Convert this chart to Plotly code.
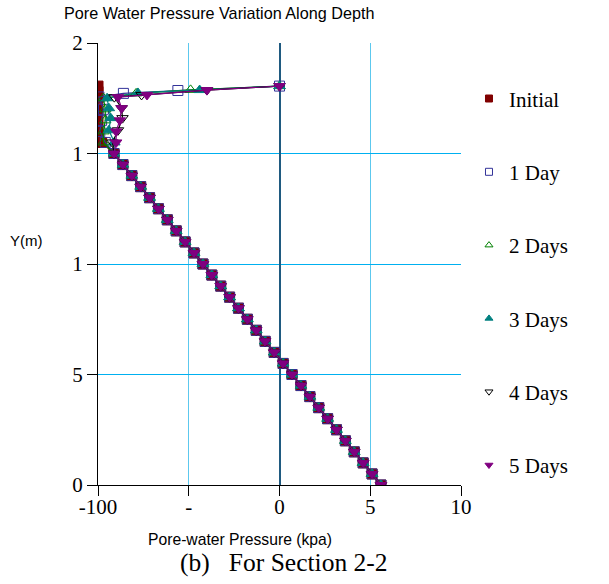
import plotly.graph_objects as go

# ---- data ----
# common hydrostatic profile (depth 0 .. 15 m, 0.5 m nodes)
base_y = [0.0, 0.5, 1.0, 1.5, 2.0, 2.5, 3.0, 3.5, 4.0, 4.5, 5.0, 5.5, 6.0, 6.5, 7.0,
          7.5, 8.0, 8.5, 9.0, 9.5, 10.0, 10.5, 11.0, 11.5, 12.0, 12.5, 13.0, 13.5,
          14.0, 14.5, 15.0]
base_p = [55.9, 51.0, 46.1, 41.2, 36.3, 31.4, 26.5, 21.6, 16.7, 11.8, 6.9, 2.0, -2.9,
          -7.9, -12.8, -17.7, -22.6, -27.5, -32.4, -37.3, -42.2, -47.1, -52.0, -56.9,
          -61.8, -66.7, -71.6, -76.5, -81.4, -86.3, -91.2]

# upper parts of each series
initial_y = [15.5, 16.0, 16.5, 17.0, 17.5, 17.8, 18.05]
initial_p = [-98, -100, -100, -100, -100, -100, -100]

day1_y = [15.5, 16.0, 16.5, 17.0, 17.56, 17.72, 17.85, 18.05]
day1_p = [-96, -99, -98, -97, -99.5, -86, -56, 0]

day2_y = [15.5, 16.0, 16.5, 17.0, 17.5, 17.72, 17.88, 18.05]
day2_p = [-97, -97, -96, -96, -97, -79, -49, 0]

day3_y = [15.5, 16.05, 16.6, 17.05, 17.5, 17.74, 17.87, 18.05]
day3_p = [-91, -94, -93, -94, -95, -78, -44, 0]

day4_y = [15.5, 16.05, 16.6, 17.05, 17.55, 17.65, 17.87, 18.05]
day4_p = [-92, -89, -86.5, -87, -91, -76, -40, 0]

day5_y = [15.5, 16.0, 16.5, 17.05, 17.55, 17.65, 17.87, 18.05]
day5_p = [-90, -90, -88, -87, -89, -73, -40, 0]

names = ["Initial", "1 Day", "2 Days", "3 Days", "4 Days", "5 Days"]
uppers = [(initial_p, initial_y), (day1_p, day1_y), (day2_p, day2_y),
          (day3_p, day3_y), (day4_p, day4_y), (day5_p, day5_y)]
colors = ["#800000", "#333399", "#008000", "#008080", "#000000", "#800080"]
symbols = ["square", "square-open", "triangle-up-open", "triangle-up",
           "triangle-down-open", "triangle-down"]

x_tickvals = [-100, -50, 0, 50, 100]
x_ticktext = ["-100", "-", "0", "5", "10"]
y_tickvals = [0, 5, 10, 15, 20]
y_ticktext = ["0", "5", "1", "1", "2"]

fig = go.Figure()
for name, (up_p, up_y), col, sym in zip(names, uppers, colors, symbols):
    fig.add_trace(go.Scatter(
        x=base_p + up_p, y=base_y + up_y, mode="lines+markers",
        line=dict(color=col, width=1.2),
        marker=dict(symbol=sym, size=10, color=col, line=dict(color=col, width=1)),
        showlegend=False, name=name))
for i, (name, col, sym) in enumerate(zip(names, colors, symbols)):
    fig.add_trace(go.Scatter(
        x=[None], y=[None], mode="markers", name=name, legendgroup=str(i),
        marker=dict(symbol=sym, size=7, color=col, line=dict(color=col, width=1))))

serif = "Liberation Serif"
sans = "Liberation Sans"

fig.update_layout(
    width=609, height=584,
    margin=dict(l=98, r=148, t=43, b=99),
    paper_bgcolor="white", plot_bgcolor="white",
    showlegend=True,
    legend=dict(x=1.022, y=0.92, xanchor="left", yanchor="top",
                font=dict(family=serif, size=21, color="black"),
                tracegroupgap=43, bgcolor="rgba(0,0,0,0)"),
    xaxis=dict(range=[-100, 100], tickvals=x_tickvals, ticktext=x_ticktext,
               showgrid=True, gridcolor="#5CC8EE", gridwidth=1,
               zeroline=True, zerolinecolor="#1F5A80", zerolinewidth=2,
               showline=True, linecolor="black", linewidth=1,
               ticks="outside", ticklen=10, tickcolor="black",
               ticklabelstandoff=-7,
               tickfont=dict(family=serif, size=21, color="black")),
    yaxis=dict(range=[0, 20], tickvals=y_tickvals, ticktext=y_ticktext,
               showgrid=True, gridcolor="#00B0F0", gridwidth=1,
               zeroline=False,
               showline=True, linecolor="black", linewidth=1,
               ticks="outside", ticklen=10, tickcolor="black",
               tickfont=dict(family=serif, size=21, color="black")),
    annotations=[
        dict(text="Pore Water Pressure Variation Along Depth", xref="paper", yref="paper",
             x=-0.099, y=1.068, xanchor="left", yanchor="middle", showarrow=False,
             font=dict(family=sans, size=16.2, color="black")),
        dict(text="Y(m)", xref="paper", yref="paper", x=-0.196, y=0.554,
             xanchor="center", yanchor="middle", showarrow=False,
             font=dict(family=sans, size=15, color="black")),
        dict(text="Pore-water Pressure (kpa)", xref="paper", yref="paper", x=0.391,
             y=-0.124, xanchor="center", yanchor="middle", showarrow=False,
             font=dict(family=sans, size=15.7, color="black")),
        dict(text="(b)   For Section 2-2", xref="paper", yref="paper", x=0.512,
             y=-0.176, xanchor="center", yanchor="middle", showarrow=False,
             font=dict(family=serif, size=25.5, color="black")),
    ],
)

fig.write_html("out.html")
